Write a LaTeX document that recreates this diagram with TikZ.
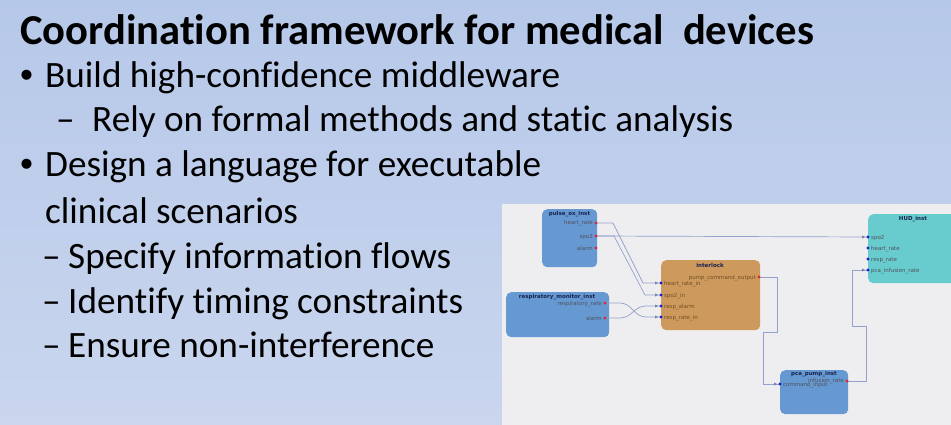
\documentclass[tikz,border=0pt]{standalone}
\usepackage{fontspec}
\setmainfont{Carlito}[Ligatures=NoCommon]
\newfontfamily\diagfont{DejaVu Sans}
\newfontfamily\bulletfont{Liberation Sans}
\usetikzlibrary{arrows.meta,calc}

\definecolor{slidetop}{RGB}{182,200,233}
\definecolor{slidebot}{RGB}{202,214,238}
\definecolor{panelbg}{RGB}{238,238,240}
\definecolor{bluebox}{RGB}{102,153,210}
\definecolor{orangebox}{RGB}{206,153,92}
\definecolor{tealbox}{RGB}{104,204,206}
\definecolor{wire}{RGB}{150,160,205}
\definecolor{outdot}{RGB}{220,40,50}
\definecolor{indot}{RGB}{20,30,210}
\definecolor{blocktitle}{RGB}{25,35,80}
\definecolor{portlbl}{RGB}{80,80,90}
\definecolor{brownlbl}{RGB}{110,80,40}

\tikzset{
  titletext/.style={anchor=base west, inner sep=0pt, font=\fontsize{42.6}{50}\selectfont\bfseries},
  bodytext/.style={anchor=base west, inner sep=0pt, font=\fontsize{37.2}{44}\selectfont},
  bullettext/.style={anchor=base west, inner sep=0pt, font=\bulletfont\fontsize{37}{44}\selectfont},
  block/.style={anchor=north west, rounded corners=5pt, inner sep=0pt, draw=none},
  blockname/.style={anchor=base, inner sep=0pt, text=blocktitle, font=\diagfont\bfseries\fontsize{5.5}{6}\selectfont},
  portR/.style={anchor=base east, inner sep=0pt, text=portlbl, font=\diagfont\fontsize{5.5}{6}\selectfont},
  portL/.style={anchor=base west, inner sep=0pt, text=portlbl, font=\diagfont\fontsize{5.5}{6}\selectfont},
  conn/.style={draw=wire, line width=0.7pt},
  outport/.style={fill=outdot},
  inport/.style={fill=indot},
  inmark/.style={fill=wire!80!black}
}

\begin{document}
\begin{tikzpicture}[x=1pt,y=-1pt]
\useasboundingbox (0,0) rectangle (951,425);
\shade[top color=slidetop, bottom color=slidebot] (0,0) rectangle (951,425);

% ---- slide text ----
\node[titletext] (title) at (20,45) {Coordination framework for medical\ \ devices};
\node[bullettext] (b1) at (20,88) {•};
\node[bodytext] (t1) at (45,88) {Build high-confidence middleware};
\node[bodytext] (d1) at (56,132) {–};
\node[bodytext] (t11) at (92,132) {Rely on formal methods and static analysis};
\node[bullettext] (b2) at (20,177) {•};
\node[bodytext] (t2) at (45,177) {Design a language for executable};
\node[bodytext] (t2b) at (45,223) {clinical scenarios};
\node[bodytext] (d21) at (42,268) {–};
\node[bodytext] (t21) at (68,268) {Specify information flows};
\node[bodytext] (d22) at (42,313) {–};
\node[bodytext] (t22) at (68,313) {Identify timing constraints};
\node[bodytext] (d23) at (42,357) {–};
\node[bodytext] (t23) at (68,357) {Ensure non-interference};

% ---- model panel ----
\fill[panelbg] (502,204) rectangle (951,425);
\begin{scope}
\clip (502,204) rectangle (951,425);

% blocks
\node[block, fill=bluebox, minimum width=55pt, minimum height=58pt] (pulse) at (542,209) {};
\node[block, fill=bluebox, minimum width=103pt, minimum height=45pt] (resp) at (506,292) {};
\node[block, fill=orangebox, minimum width=99pt, minimum height=70pt] (inter) at (661,260) {};
\node[block, fill=tealbox, minimum width=100pt, minimum height=69pt] (hud) at (868,214) {};
\node[block, fill=bluebox, minimum width=68pt, minimum height=44pt] (pca) at (780,370) {};

% block names
\node[blockname] (pulsename) at (569.5,215) {pulse\_ox\_inst};
\node[blockname] (respname) at (557,298) {respiratory\_monitor\_inst};
\node[blockname] (intername) at (710,267) {interlock};
\node[blockname] (hudname) at (913,220) {HUD\_inst};
\node[blockname] (pcaname) at (814,375) {pca\_pump\_inst};

% port positions
\coordinate (pHR) at (596,223);
\coordinate (pSP) at (596,236);
\coordinate (pAL) at (596,248);
\coordinate (rRR) at (605,303);
\coordinate (rAL) at (605,318);
\coordinate (iOUT) at (759,277);
\coordinate (iHR) at (661,283);
\coordinate (iSP) at (661,295);
\coordinate (iRA) at (661,306);
\coordinate (iRR) at (661,317);
\coordinate (hSP) at (868,237);
\coordinate (hHR) at (868,248);
\coordinate (hRR) at (868,259);
\coordinate (hPCA) at (868,270);
\coordinate (cIR) at (847,381);
\coordinate (cCI) at (780,384);

% port labels
\node[portR] (lpHR) at (593,225) {heart\_rate};
\node[portR] (lpSP) at (593,238) {spo2};
\node[portR] (lpAL) at (593,250) {alarm};
\node[portR] (lrRR) at (602,305) {respiratory\_rate};
\node[portR] (lrAL) at (602,320) {alarm};
\node[portR, text=brownlbl] (liOUT) at (756,279) {pump\_command\_output};
\node[portL, text=brownlbl] (liHR) at (664,285) {heart\_rate\_in};
\node[portL, text=brownlbl] (liSP) at (664,297) {spo2\_in};
\node[portL, text=brownlbl] (liRA) at (664,308) {resp\_alarm};
\node[portL, text=brownlbl] (liRR) at (664,319) {resp\_rate\_in};
\node[portL] (lhSP) at (871,239) {spo2};
\node[portL] (lhHR) at (871,250) {heart\_rate};
\node[portL] (lhRR) at (871,261) {resp\_rate};
\node[portL] (lhPCA) at (871,272) {pca\_infusion\_rate};
\node[portR] (lcIR) at (844,382) {infusion\_rate};
\node[portL] (lcCI) at (783,386) {command\_input};

% connectors
\draw[conn] (pHR) -- (613,223) -- (643,283) -- (iHR);
\draw[conn] (pSP) -- (614,236) -- (645,295) -- (iSP);
\draw[conn] (pSP) -- (hSP);
\draw[conn] (rRR) -- (620,303) .. controls (632,303) and (634,317) .. (646,317) -- (iRR);
\draw[conn] (rAL) -- (620,318) .. controls (632,318) and (634,306) .. (646,306) -- (iRA);
\draw[conn] (iOUT) -- (777,277) -- (777,332) -- (763,332) -- (763,384) -- (cCI);
\draw[conn] (cIR) -- (866,381) -- (866,326) -- (852,326) -- (852,270) -- (hPCA);

% port dots
\foreach \p in {pHR,pSP,pAL,rRR,rAL,iOUT,cIR}
  \fill[outport] (\p) circle (1.6pt);
\foreach \p in {iHR,iSP,iRA,iRR,hSP,hHR,hRR,hPCA,cCI}
  \fill[inport] (\p) circle (1.6pt);
% input markers
\foreach \p in {iHR,iSP,iRA,iRR,hSP,hPCA,cCI}
  \fill[inmark] ($(\p)+(-6,-1.5)$) -- ($(\p)+(-3,0)$) -- ($(\p)+(-6,1.5)$) -- cycle;
\end{scope}
\end{tikzpicture}
\end{document}
